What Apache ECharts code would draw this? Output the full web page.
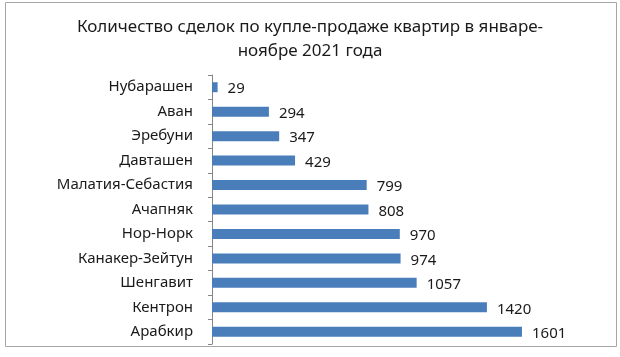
<!DOCTYPE html>
<html><head><meta charset="utf-8">
<script src="https://cdn.jsdelivr.net/npm/echarts@6/dist/echarts.min.js"></script>
<style>html,body{margin:0;padding:0;background:#fff}#c{width:620px;height:357px}</style>
</head><body><div id="c"></div>
<script>
const titleText = 'Количество сделок по купле-продаже квартир в январе-\nноябре 2021 года';
const categories = ['Нубарашен','Аван','Эребуни','Давташен','Малатия-Себастия','Ачапняк','Нор-Норк','Канакер-Зейтун','Шенгавит','Кентрон','Арабкир'];
const values = [29, 294, 347, 429, 799, 808, 970, 974, 1057, 1420, 1601];

const FONT = 'Noto Sans';
const chart = echarts.init(document.getElementById('c'), null, {renderer:'canvas'});
chart.setOption({
  animation: false,
  backgroundColor: '#fff',
  graphic: [{type:'rect', shape:{x:5.5,y:2.5,width:611,height:344}, style:{fill:'none', stroke:'#a6a6a6', lineWidth:1}, z:-1}],
  title: {
    text: titleText, left: 'center', top: 10,
    textStyle: {fontFamily: FONT, fontSize: 17, fontWeight: 'normal', color: '#1a1a1a', lineHeight: 24}
  },
  grid: {left: 212, top: 75, width: 348.5, height: 269, containLabel: false},
  xAxis: {type:'value', min:0, max:1800, show:false},
  yAxis: {
    type:'category', data: categories, inverse: true,
    axisLine: {show:true, lineStyle:{color:'#868686', width:1}},
    axisTick: {show:true, length:4, lineStyle:{color:'#868686'}},
    axisLabel: {fontFamily: FONT, fontSize: 15, color: '#1a1a1a', margin: 19}
  },
  series: [{
    type:'bar', data: values, barWidth: 10,
    itemStyle: {color: '#4a7ebb'},
    label: {show:true, position:'right', distance: 10, fontFamily: FONT, fontSize: 15, color:'#1a1a1a', offset:[0,2]}
  }]
});
</script></body></html>
